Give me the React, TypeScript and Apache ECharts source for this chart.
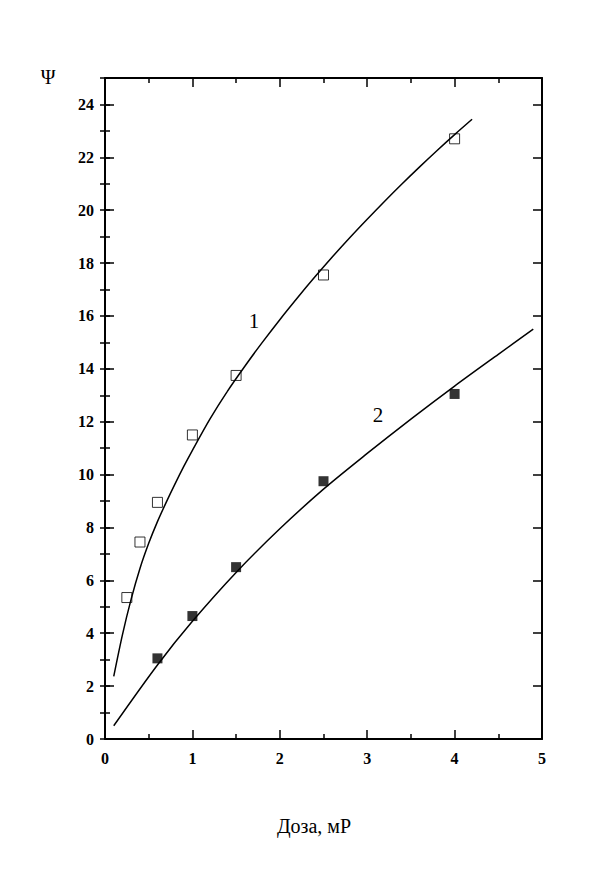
import React, { useEffect, useRef } from "react";
import * as echarts from "echarts";

// Open squares (curve 1)
const dose1 = [0.25, 0.4, 0.6, 1.0, 1.5, 2.5, 4.0];
const psi1 = [5.35, 7.45, 8.95, 11.5, 13.75, 17.55, 22.7];
// Filled squares (curve 2)
const dose2 = [0.6, 1.0, 1.5, 2.5, 4.0];
const psi2 = [3.05, 4.65, 6.5, 9.75, 13.05];

// Curve 1 traced points
const curve1X = [0.1, 0.2, 0.3, 0.4, 0.5, 0.6, 0.7, 0.8, 0.9, 1.0, 1.2, 1.4, 1.6, 1.8, 2.0, 2.2, 2.4, 2.6, 2.8, 3.0, 3.2, 3.4, 3.6, 3.8, 4.0, 4.2];
const curve1Y = [2.37, 3.95, 5.3, 6.45, 7.4, 8.22, 8.95, 9.64, 10.3, 10.92, 12.1, 13.15, 14.1, 15.0, 15.86, 16.68, 17.47, 18.23, 18.96, 19.66, 20.34, 21.0, 21.64, 22.26, 22.86, 23.44];
// Curve 2 traced points
const curve2X = [0.1, 0.6, 1.0, 1.5, 2.0, 2.5, 3.0, 3.5, 4.0, 4.5, 4.9];
const curve2Y = [0.5, 2.8, 4.45, 6.3, 7.95, 9.45, 10.8, 12.1, 13.35, 14.55, 15.5];

const xMax = 5;
const yMax = 25;

const FONT = "'Liberation Serif', 'Times New Roman', serif";

const zip = (xs: number[], ys: number[]) => xs.map((x, i) => [x, ys[i]]);

export default function App() {
  const ref = useRef<HTMLDivElement>(null);
  useEffect(() => {
    if (!ref.current) return;
    const chart = echarts.init(ref.current, null, { renderer: "svg" });
    const axisLine = { show: true, onZero: false, lineStyle: { color: "#000", width: 2 } };
    const noLine = { show: false };
    const tickStyle = { color: "#000", width: 1.5 };
    const labelStyle = { color: "#000", fontFamily: FONT, fontSize: 16, fontWeight: "bold" as const };
    const xLabelAxis = {
      type: "value" as const,
      position: "bottom" as const,
      min: 0,
      max: xMax,
      interval: 1,
      axisLine,
      axisTick: { show: false },
      splitLine: { show: false },
      axisLabel: { show: true, ...labelStyle, margin: 11 },
    };
    const xTickAxis = (pos: "bottom" | "top") => ({
      type: "value" as const,
      position: pos,
      min: 0,
      max: xMax,
      interval: 1,
      axisLine: pos === "top" ? axisLine : noLine,
      axisTick: { show: true, inside: true, length: 9, lineStyle: tickStyle },
      minorTick: { show: true, splitNumber: 2, length: 5, lineStyle: tickStyle },
      splitLine: { show: false },
      minorSplitLine: { show: false },
      axisLabel: { show: false },
    });
    const yLabelAxis = {
      type: "value" as const,
      position: "left" as const,
      min: 0,
      max: yMax,
      interval: 2,
      axisLine,
      axisTick: { show: false },
      splitLine: { show: false },
      axisLabel: {
        show: true,
        ...labelStyle,
        margin: 11,
        formatter: (v: number) => (v === yMax ? "" : String(v)),
      },
    };
    const yTickAxis = (pos: "left" | "right", step: number, len: number, line: boolean) => ({
      type: "value" as const,
      position: pos,
      min: 0,
      max: yMax,
      interval: step,
      axisLine: line ? axisLine : noLine,
      axisTick: { show: true, inside: true, length: len, lineStyle: tickStyle },
      splitLine: { show: false },
      axisLabel: { show: false },
    });
    const curveLine = (xs: number[], ys: number[]) => ({
      type: "line",
      xAxisIndex: 0,
      yAxisIndex: 0,
      data: zip(xs, ys),
      smooth: 0.3,
      showSymbol: false,
      lineStyle: { color: "#000", width: 1.5 },
      z: 2,
    });
    chart.setOption({
      animation: false,
      backgroundColor: "#fff",
      grid: { left: 105, top: 78, right: 74, bottom: 133, containLabel: false },
      xAxis: [xLabelAxis, xTickAxis("bottom"), xTickAxis("top")],
      yAxis: [
        yLabelAxis,
        yTickAxis("left", 2, 9, false),
        yTickAxis("left", 1, 5, false),
        yTickAxis("right", 2, 9, true),
        yTickAxis("right", 1, 5, false),
      ],
      series: [
        curveLine(curve1X, curve1Y),
        curveLine(curve2X, curve2Y),
        {
          type: "scatter",
          xAxisIndex: 0,
          yAxisIndex: 0,
          data: zip(dose1, psi1),
          symbol: "rect",
          symbolSize: 10,
          itemStyle: { color: "rgba(255,255,255,0)", borderColor: "#000", borderWidth: 1 },
          z: 3,
        },
        {
          type: "scatter",
          xAxisIndex: 0,
          yAxisIndex: 0,
          data: zip(dose2, psi2),
          symbol: "rect",
          symbolSize: 10,
          itemStyle: { color: "#000" },
          z: 3,
        },
      ],
      graphic: [
        {
          type: "text",
          x: 314,
          y: 826,
          style: { text: "Доза, мР", font: `20px ${FONT}`, fill: "#000", textAlign: "center", textVerticalAlign: "middle" },
        },
        {
          type: "text",
          x: 48,
          y: 77,
          style: { text: "Ψ", font: `20px ${FONT}`, fill: "#000", textAlign: "center", textVerticalAlign: "middle" },
        },
        {
          type: "text",
          x: 254,
          y: 321,
          style: { text: "1", font: `21px ${FONT}`, fill: "#000", textAlign: "center", textVerticalAlign: "middle" },
        },
        {
          type: "text",
          x: 378,
          y: 415,
          style: { text: "2", font: `21px ${FONT}`, fill: "#000", textAlign: "center", textVerticalAlign: "middle" },
        },
      ],
    });
    return () => chart.dispose();
  }, []);
  return (
    <div
      ref={ref}
      style={{ position: "fixed", left: 0, top: 0, width: 616, height: 872, background: "#fff" }}
    />
  );
}
